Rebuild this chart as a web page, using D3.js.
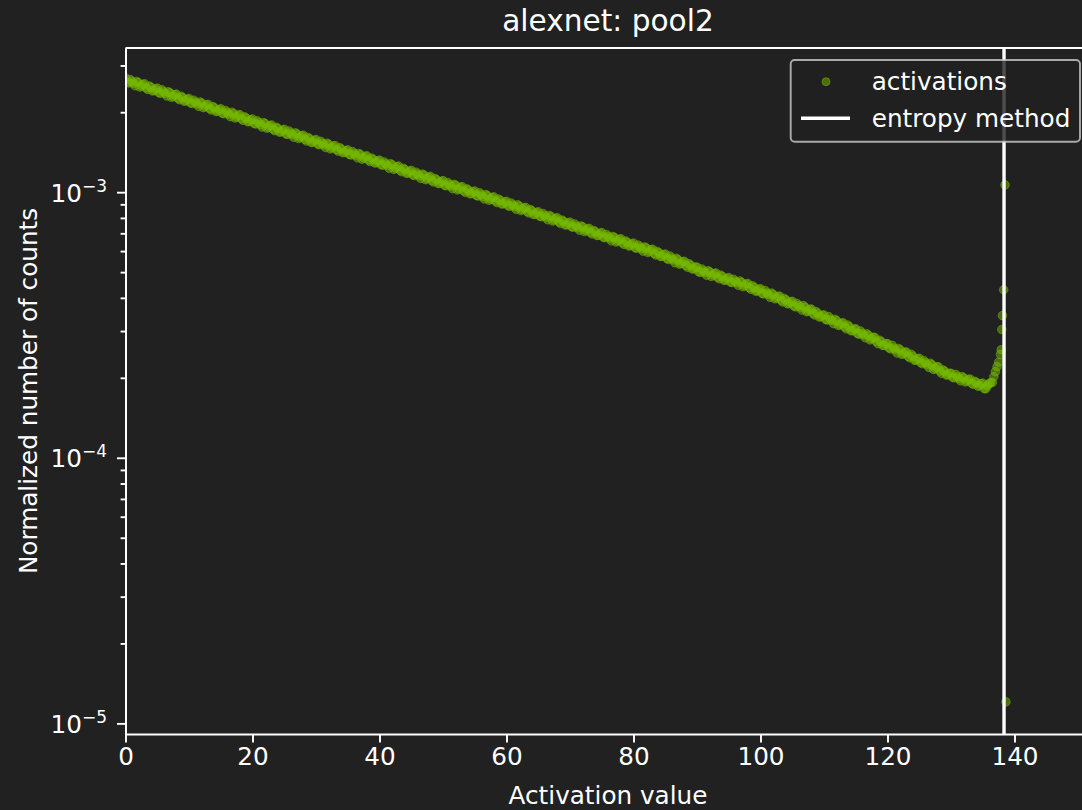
<!DOCTYPE html>
<html>
<head>
<meta charset="utf-8">
<script src="https://cdn.jsdelivr.net/npm/d3@7"></script>
<style>
  html, body { margin: 0; padding: 0; background: #212121; }
  text { font-family: "DejaVu Sans", sans-serif; fill: #ffffff; }
</style>
</head>
<body>
<div id="container"></div>
<script>
let w = 1082;
let h = 810;

// histogram of activations, counts in units of 1e-4
// bins at 0, 0.5, 1.0 ... and the in-between bins at 0.25, 0.75 ...
const binStep = 0.5;
const binOffset = 0.25;
const countUnit = 1e-4;
const normalizedCounts = [
  26.95, 25.79, 26.08, 25.15, 25.87, 25.13, 25.59, 24.37, 24.85, 24.14,
  24.64, 23.59, 23.86, 23.01, 23.67, 22.99, 23.40, 22.29, 22.73, 22.08,
  22.54, 21.57, 21.82, 21.05, 21.65, 21.03, 21.41, 20.39, 20.79, 20.20,
  20.61, 19.73, 19.96, 19.25, 19.79, 19.23, 19.58, 18.65, 19.01, 18.46,
  18.86, 18.05, 18.25, 17.60, 18.11, 17.59, 17.91, 17.05, 17.38, 16.89,
  17.25, 16.51, 16.69, 16.10, 16.56, 16.09, 16.38, 15.59, 15.90, 15.44,
  15.78, 15.10, 15.27, 14.73, 15.14, 14.72, 14.98, 14.27, 14.54, 14.13,
  14.43, 13.81, 13.97, 13.47, 13.85, 13.46, 13.71, 13.05, 13.30, 12.93,
  13.20, 12.63, 12.77, 12.32, 12.68, 12.32, 12.54, 11.94, 12.17, 11.82,
  12.08, 11.55, 11.69, 11.27, 11.59, 11.26, 11.47, 10.92, 11.13, 10.81,
  11.05, 10.57, 10.69, 10.31, 10.61, 10.30, 10.49, 9.99, 10.18, 9.89,
  10.10, 9.67, 9.78, 9.43, 9.70, 9.42, 9.60, 9.14, 9.32, 9.05,
  9.24, 8.85, 8.94, 8.63, 8.87, 8.62, 8.77, 8.35, 8.51, 8.27,
  8.44, 8.08, 8.17, 7.87, 8.10, 7.87, 8.01, 7.62, 7.77, 7.54,
  7.71, 7.38, 7.46, 7.19, 7.40, 7.18, 7.31, 6.96, 7.10, 6.89,
  7.04, 6.74, 6.81, 6.56, 6.75, 6.56, 6.68, 6.36, 6.48, 6.30,
  6.43, 6.15, 6.22, 6.00, 6.17, 5.99, 6.10, 5.80, 5.92, 5.74,
  5.85, 5.58, 5.64, 5.43, 5.57, 5.40, 5.49, 5.22, 5.31, 5.15,
  5.22, 4.99, 5.05, 4.87, 5.01, 4.88, 4.96, 4.72, 4.81, 4.67,
  4.77, 4.57, 4.62, 4.46, 4.58, 4.46, 4.53, 4.31, 4.38, 4.25,
  4.33, 4.14, 4.17, 4.02, 4.12, 4.00, 4.06, 3.86, 3.93, 3.81,
  3.88, 3.70, 3.74, 3.60, 3.69, 3.57, 3.63, 3.45, 3.50, 3.40,
  3.45, 3.30, 3.32, 3.20, 3.28, 3.17, 3.22, 3.06, 3.11, 3.01,
  3.06, 2.92, 2.94, 2.83, 2.89, 2.81, 2.84, 2.69, 2.74, 2.65,
  2.69, 2.57, 2.59, 2.48, 2.55, 2.47, 2.50, 2.38, 2.41, 2.33,
  2.37, 2.26, 2.28, 2.19, 2.24, 2.17, 2.20, 2.08, 2.12, 2.05,
  2.08, 2.00, 2.02, 1.95, 2.00, 1.95, 1.98, 1.89, 1.92, 1.87,
  1.91, 1.82, 1.90, 1.92, 2.11, 2.29
];
const normalizedCountsOffset = [
  25.92, 26.53, 25.72, 26.12, 24.88, 25.45, 24.69, 25.11, 24.06, 24.47,
  23.70, 24.27, 23.53, 23.89, 22.76, 23.28, 22.58, 22.96, 22.01, 22.38,
  21.68, 22.20, 21.51, 21.85, 20.82, 21.30, 20.66, 21.00, 20.13, 20.47,
  19.83, 20.30, 19.68, 19.99, 19.03, 19.47, 18.89, 19.21, 18.41, 18.72,
  18.14, 18.57, 18.00, 18.28, 17.41, 17.81, 17.27, 17.56, 16.83, 17.12,
  16.59, 16.99, 16.46, 16.72, 15.93, 16.29, 15.81, 16.06, 15.39, 15.66,
  15.18, 15.54, 15.05, 15.29, 14.56, 14.90, 14.45, 14.70, 14.08, 14.32,
  13.88, 14.21, 13.77, 13.98, 13.32, 13.63, 13.22, 13.44, 12.88, 13.11,
  12.69, 12.99, 12.60, 12.80, 12.19, 12.47, 12.10, 12.30, 11.78, 11.98,
  11.62, 11.89, 11.53, 11.70, 11.15, 11.40, 11.06, 11.25, 10.78, 10.96,
  10.62, 10.87, 10.54, 10.70, 10.20, 10.43, 10.12, 10.29, 9.86, 10.03,
  9.72, 9.95, 9.64, 9.79, 9.33, 9.54, 9.26, 9.42, 9.02, 9.17,
  8.89, 9.10, 8.82, 8.96, 8.53, 8.72, 8.46, 8.60, 8.24, 8.38,
  8.12, 8.31, 8.05, 8.17, 7.79, 7.97, 7.73, 7.85, 7.52, 7.65,
  7.41, 7.59, 7.35, 7.46, 7.11, 7.27, 7.05, 7.17, 6.87, 6.99,
  6.77, 6.93, 6.72, 6.81, 6.49, 6.64, 6.44, 6.55, 6.27, 6.38,
  6.18, 6.32, 6.13, 6.22, 5.93, 6.07, 5.88, 5.98, 5.73, 5.82,
  5.63, 5.75, 5.56, 5.64, 5.36, 5.47, 5.30, 5.38, 5.14, 5.22,
  5.02, 5.14, 4.98, 5.06, 4.82, 4.94, 4.78, 4.87, 4.66, 4.74,
  4.59, 4.70, 4.56, 4.63, 4.41, 4.51, 4.37, 4.44, 4.24, 4.31,
  4.16, 4.26, 4.12, 4.17, 3.97, 4.05, 3.92, 3.98, 3.80, 3.86,
  3.73, 3.81, 3.69, 3.74, 3.55, 3.62, 3.50, 3.55, 3.39, 3.44,
  3.32, 3.40, 3.28, 3.32, 3.15, 3.21, 3.11, 3.16, 3.01, 3.05,
  2.94, 3.00, 2.90, 2.93, 2.78, 2.84, 2.74, 2.77, 2.65, 2.69,
  2.59, 2.65, 2.55, 2.58, 2.45, 2.50, 2.41, 2.45, 2.33, 2.36,
  2.28, 2.32, 2.24, 2.27, 2.15, 2.20, 2.12, 2.14, 2.05, 2.08,
  2.01, 2.06, 1.99, 2.02, 1.93, 1.97, 1.91, 1.94, 1.86, 1.90,
  1.82, 1.87, 1.92, 2.02, 2.20
];

// the last few bins near the top of the range
const tailValues = [137.8, 137.9, 138.0, 138.1, 138.3, 138.5, 138.65];
const tailCounts = [2.45, 2.55, 3.04, 3.43, 4.29, 10.65, 0.1205];

const entropyThreshold = 138.35;

const xTicks = [0, 20, 40, 60, 80, 100, 120, 140];
const yMajorExponents = [-5, -4, -3];
const legendLabels = ["activations", "entropy method"];

const green = "#76b900";
const fontSize = 24.7;

let viz = d3.select("#container")
  .append("svg")
    .attr("width", w)
    .attr("height", h)
    .style("background-color", "#212121")
;

let plotLeft = 125.5, plotRight = 1090.7, plotTop = 48, plotBottom = 734;

let xScale = d3.scaleLinear().domain([0, 152]).range([plotLeft, plotRight]);
let yScale = d3.scaleLog().domain([9.12e-6, 3.49e-3]).range([plotBottom, plotTop]);

// clip for the markers
viz.append("clipPath").attr("id", "plotClip")
  .append("rect")
    .attr("x", plotLeft).attr("y", plotTop)
    .attr("width", plotRight - plotLeft).attr("height", plotBottom - plotTop);

let points = normalizedCounts.map((c, i) => ({x: i * binStep, v: c * countUnit}));
normalizedCountsOffset.forEach((c, i) => points.push({x: binOffset + i * binStep, v: c * countUnit}));
tailValues.forEach((t, i) => points.push({x: t, v: tailCounts[i] * countUnit}));

viz.append("g")
    .attr("clip-path", "url(#plotClip)")
  .selectAll("circle")
  .data(points)
  .enter()
  .append("circle")
    .attr("cx", d => xScale(d.x))
    .attr("cy", d => yScale(d.v))
    .attr("r", 4.3)
    .style("fill", green)
    .style("fill-opacity", 0.5)
    .style("stroke", green)
    .style("stroke-opacity", 0.5)
    .style("stroke-width", 1)
;

// entropy threshold line
viz.append("line")
    .attr("x1", xScale(entropyThreshold)).attr("x2", xScale(entropyThreshold))
    .attr("y1", yScale.range()[0]).attr("y2", yScale.range()[1])
    .style("stroke", "#ffffff")
    .style("stroke-width", 3.4)
;

// x axis
let xAxis = d3.axisBottom(xScale).tickValues(xTicks).tickSize(8.5).tickSizeOuter(0).tickPadding(5);
let xg = viz.append("g").attr("transform", "translate(0," + plotBottom + ")").call(xAxis);
xg.attr("font-family", null).attr("font-size", null);
xg.selectAll("text").style("font-size", fontSize + "px").style("fill", "#ffffff");
xg.selectAll("line").style("stroke", "#ffffff").style("stroke-width", 1.9);
xg.select(".domain").style("stroke", "#ffffff").style("stroke-width", 1.9);

// y axis, major + minor ticks
let minorTicks = [];
yMajorExponents.forEach(e => {
  for (let k = 2; k <= 9; k++) {
    let v = k * Math.pow(10, e);
    if (v >= yScale.domain()[0] && v <= yScale.domain()[1]) minorTicks.push(v);
  }
});
let majorTicks = yMajorExponents.map(e => Math.pow(10, e));

let yMinor = viz.append("g").attr("transform", "translate(" + plotLeft + ",0)")
  .call(d3.axisLeft(yScale).tickValues(minorTicks).tickSize(4.9).tickSizeOuter(0).tickFormat(""));
let yMajor = viz.append("g").attr("transform", "translate(" + plotLeft + ",0)")
  .call(d3.axisLeft(yScale).tickValues(majorTicks).tickSize(8.5).tickSizeOuter(0).tickFormat(""));
[yMinor, yMajor].forEach(g => {
  g.selectAll("line").style("stroke", "#ffffff").style("stroke-width", 1.9);
  g.select(".domain").style("stroke", "#ffffff").style("stroke-width", 1.9);
});

yMajorExponents.forEach(e => {
  let t = viz.append("text")
    .attr("x", plotLeft - 18.5)
    .attr("y", yScale(Math.pow(10, e)) + 9.4)
    .attr("text-anchor", "end")
    .style("font-size", fontSize + "px");
  t.append("tspan").text("10");
  t.append("tspan").attr("dy", -10).style("font-size", "17px").text("\u2212" + Math.abs(e));
});

// top spine
viz.append("line")
    .attr("x1", plotLeft).attr("x2", plotRight).attr("y1", plotTop).attr("y2", plotTop)
    .style("stroke", "#ffffff").style("stroke-width", 1.9);
// right spine
viz.append("line")
    .attr("x1", plotRight).attr("x2", plotRight).attr("y1", plotTop).attr("y2", plotBottom)
    .style("stroke", "#ffffff").style("stroke-width", 1.9);

// labels
viz.append("text")
    .attr("x", 608).attr("y", 31)
    .attr("text-anchor", "middle")
    .style("font-size", "29.6px")
    .text("alexnet: pool2");

viz.append("text")
    .attr("x", 608).attr("y", 804)
    .attr("text-anchor", "middle")
    .style("font-size", fontSize + "px")
    .text("Activation value");

viz.append("text")
    .attr("transform", "translate(37," + ((plotTop + plotBottom) / 2) + ") rotate(-90)")
    .attr("text-anchor", "middle")
    .style("font-size", fontSize + "px")
    .text("Normalized number of counts");

// legend
let legend = viz.append("g");
legend.append("rect")
    .attr("x", 790.7).attr("y", 60)
    .attr("width", 289.3).attr("height", 81.7)
    .attr("rx", 4)
    .style("fill", "#212121").style("fill-opacity", 0.8)
    .style("stroke", "#cccccc").style("stroke-opacity", 0.8).style("stroke-width", 1.9);

legend.append("circle")
    .attr("cx", 826).attr("cy", 81.7).attr("r", 4)
    .style("fill", green).style("fill-opacity", 0.5)
    .style("stroke", green).style("stroke-opacity", 0.5);
legend.append("line")
    .attr("x1", 801).attr("x2", 850).attr("y1", 118.3).attr("y2", 118.3)
    .style("stroke", "#ffffff").style("stroke-width", 3.4);

legend.selectAll(".legendText").data(legendLabels).enter()
  .append("text")
    .classed("legendText", true)
    .attr("x", 871.7)
    .attr("y", (d, i) => 90 + i * 37)
    .style("font-size", fontSize + "px")
    .text(d => d);
</script>
</body>
</html>
